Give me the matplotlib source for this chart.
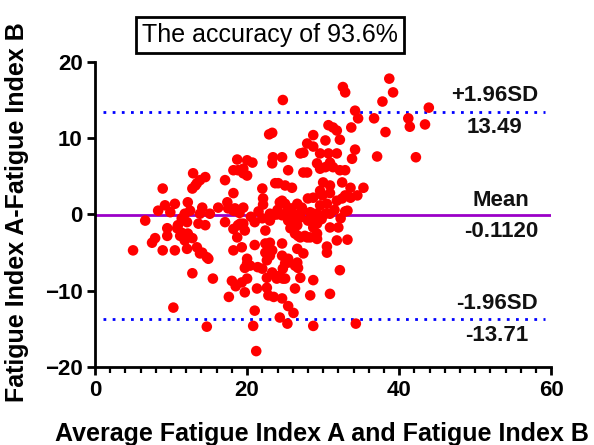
import matplotlib
matplotlib.use("Agg")
import matplotlib.pyplot as plt
from matplotlib.ticker import MultipleLocator

plt.rcParams['font.family'] = ['Liberation Sans', 'DejaVu Sans']

# Bland-Altman statistics
mean_diff = -0.1120
upper_loa = 13.49
lower_loa = -13.71

# Average of the two indices (x) and their difference (y)
avg_ab = [
    5.0, 6.6, 7.5, 7.9, 8.3, 8.9, 8.9, 9.2, 9.5, 9.5, 9.9,
    10.5, 10.5, 10.3, 10.8, 10.9, 11.2, 11.4, 11.4, 11.8, 11.8, 12.1, 12.1, 12.2, 12.2,
    12.5, 12.8, 12.8, 12.8, 12.9, 13.2, 13.4, 13.4, 13.6, 13.8, 13.8, 13.8, 14.1, 14.1,
    14.5, 14.5, 14.7, 14.7, 14.9, 15.1, 15.5, 16.2, 17.1, 17.1, 17.4, 17.5, 17.6,
    18.0, 18.2, 18.2, 18.2, 18.2, 18.4, 18.5, 18.7, 18.7, 18.2, 18.8, 18.8, 19.0, 19.1,
    19.3, 19.3, 19.5, 19.5, 19.5, 19.5, 19.7, 19.7, 19.7, 20.0, 20.0, 20.0, 20.0, 20.0,
    20.4, 20.5, 20.7, 20.8,
    21.0, 21.0, 21.0, 21.2, 21.4, 21.3, 21.5, 22.0, 22.0, 22.0, 22.1, 22.1, 22.4, 22.4,
    22.4, 23.0, 23.3, 22.6, 22.6, 22.6, 22.8, 23.5, 22.9, 23.3, 23.0, 23.0, 23.0, 23.3,
    23.4, 23.4, 23.3, 23.7, 23.9, 23.9, 24.0, 24.1, 24.3, 24.3, 24.3, 24.6, 24.6, 24.6,
    24.6, 24.6, 24.7, 24.6, 24.7, 24.7,
    25.0, 25.0, 25.0, 25.0, 25.3, 25.4, 25.4, 25.4, 25.4, 25.4, 25.3, 25.7, 25.8, 25.9,
    25.9, 25.9, 26.1, 26.3, 26.3, 26.3, 26.6, 26.6, 26.6, 26.6, 26.6, 26.7, 26.7, 27.0,
    27.0, 27.0, 27.0, 27.0, 27.2, 27.2, 27.4, 27.4, 27.4, 27.6, 27.9, 27.9, 27.9, 28.0,
    28.0, 28.3, 28.3, 28.3,
    28.7, 28.7, 28.7, 28.7, 28.7, 28.7, 28.7, 28.7, 29.2, 29.2, 29.2, 29.2, 29.2, 29.6,
    29.6, 29.6, 29.6, 29.8, 29.9, 30.0, 30.3, 30.3, 30.3, 30.5, 30.5, 30.5, 30.7, 30.7,
    30.9, 30.9, 30.9, 30.9, 30.9, 30.9, 31.3, 31.3, 31.5, 31.8, 31.8, 31.8, 31.8, 32.0,
    32.2, 32.2, 32.2, 32.3, 32.5, 32.5, 32.6, 32.9, 32.9, 32.9, 32.9, 33.2, 33.2, 33.6,
    33.6, 33.7, 33.8, 34.2, 34.2, 34.3, 34.5, 34.6, 35.3,
    36.7, 37.1, 37.8, 38.2, 38.7, 39.2, 41.2, 41.4, 42.2, 43.4, 43.9,
]
diff_ab = [
    -4.7, -0.8, -3.7, -3.1, 0.5, 3.4, -4.7, 1.2, -1.8, -2.8, 0.3,
    1.4, -4.7, -12.2, -1.8, -1.4, -2.8, -0.5, -2.4, 0.1, -3.4, -1.0, -4.5, 1.6, -2.5,
    0.5, -3.1, -7.7, 3.4, 5.4, 3.8, 4.1, -4.3, -1.2, 0.1, 4.5, -5.1, 0.9, -5.0,
    4.9, -1.4, -5.6, -14.7, -5.8, 0.1, -8.4, 0.9, -1.0, 4.5, 1.6, 0.8, -10.8,
    -8.7, 2.8, -1.9, 0.5, 5.8, 0.8, -9.4, 7.2, -3.0, -4.7, -1.4, 5.8, 0.2, -1.2,
    -4.3, -8.9, 0.9, -1.2, 6.0, 5.4, -2.1, -10.2, -7.0, 7.1, 5.1, -5.8, -8.4, -6.4,
    -6.7, -0.3, 6.8, -14.6,
    -1.0, -4.0, -12.6, -17.9, -6.9, -9.7, 0.4, 3.4, -7.1, -0.5, 1.3, 2.1, -2.1, -3.8,
    -5.0, -3.7, -4.7, -6.0, -8.3, -9.6, -10.6, -10.8, 10.5, 10.7, -0.8, 0.1, -5.4, 6.7,
    7.5, -0.1, -7.6, 4.1, 0.0, -8.4, 0.6, 4.1, 1.6, -8.0, -13.5, 7.5, 1.8, -0.1,
    -3.8, -5.4, -8.4, -11.0, -7.1, 15.0,
    3.8, 1.4, -6.4, -8.4, 0.5, 5.8, -0.8, -5.8, -6.3, -12.0, -14.3, -1.8, 0.8, 3.5,
    -1.4, -0.4, -12.9, -2.5, -6.7, -9.7, 1.4, -1.4, -4.5, -6.3, 0.0, -2.8, -7.0, 8.0,
    0.1, -0.4, -3.0, -8.3, 0.9, 0.5, 8.1, 5.5, -5.1, -2.8, 9.3, 5.5, -3.0, 2.1,
    -0.8, 0.3, -3.0, -10.6,
    10.4, 8.9, 2.2, 0.1, -0.5, -1.7, -8.6, -14.6, 6.7, 0.1, -1.2, -2.5, -3.2, 8.0,
    6.0, 3.1, 1.2, -0.6, 2.5, 4.2, 9.7, 6.2, 0.1, 1.4, -4.2, -5.0, 11.7, 8.0,
    3.8, 2.8, 6.8, 0.1, -1.7, -10.4, 11.4, 6.2, 0.6, 11.0, 8.0, 1.8, -3.4, -1.7,
    9.8, 5.8, -7.3, -0.5, 4.2, 2.1, 16.7, 16.0, 5.8, 2.5, 0.4, 0.5, -3.3, 3.5,
    2.2, 11.4, 7.3, 13.6, 8.5, -14.3, 2.5, 12.6, 3.5,
    12.6, 7.6, 14.8, 10.8, 17.8, 16.0, 12.6, 11.5, 7.5, 11.8, 14.0,
]

x_ticks = [0, 20, 40, 60]
y_ticks = [-20, -10, 0, 10, 20]

fig = plt.figure(figsize=(5.94, 4.45), dpi=100)
ax = fig.add_axes([0.16, 0.175, 0.768, 0.686])

ax.scatter(avg_ab, diff_ab, s=58, color='#ff0000', edgecolors='none', zorder=3)

ax.axhline(mean_diff, xmin=0, xmax=1, color='#9b00c8', lw=2.0, zorder=2)
for v in (upper_loa, lower_loa):
    ax.plot([1, 59.2], [v, v], color='#0000ff', lw=2.0,
            linestyle=(0, (1, 2.3)), zorder=2)

txt = dict(fontsize=16, fontweight='bold', ha='center', color='#111111')
ax.annotate('+1.96SD', (52.5, upper_loa), xytext=(0, 4), textcoords='offset points', va='bottom', **txt)
ax.annotate(f'{upper_loa:.2f}', (52.5, upper_loa), xytext=(0, -4), textcoords='offset points', va='top', **txt)
ax.annotate('Mean', (53.4, mean_diff), xytext=(0, 3), textcoords='offset points', va='bottom', **txt)
ax.annotate(f'{mean_diff:.4f}', (53.4, mean_diff), xytext=(0, -4), textcoords='offset points', va='top', **txt)
ax.annotate('-1.96SD', (52.9, lower_loa), xytext=(0, 4), textcoords='offset points', va='bottom', **txt)
ax.annotate(f'{lower_loa:.2f}', (52.9, lower_loa), xytext=(0, -4), textcoords='offset points', va='top', **txt)

ax.set_xlim(0, 60)
ax.set_ylim(-20, 20)
ax.set_xticks(x_ticks)
ax.set_yticks(y_ticks)
ax.xaxis.set_minor_locator(MultipleLocator(2))

for s in ('top', 'right'):
    ax.spines[s].set_visible(False)
for s in ('left', 'bottom'):
    ax.spines[s].set_linewidth(2.0)
ax.tick_params(axis='both', which='major', length=6, width=2.0, labelsize=16, pad=3)
ax.tick_params(axis='x', which='minor', length=4, width=1.6)
for lab in ax.get_xticklabels() + ax.get_yticklabels():
    lab.set_fontweight('bold')

ax.set_xlabel('Average Fatigue Index A and Fatigue Index B', fontsize=18, fontweight='bold')
ax.set_ylabel('Fatigue Index A-Fatigue Index B', fontsize=18, fontweight='bold')
ax.xaxis.set_label_coords(0.498, -0.18)
ax.yaxis.set_label_coords(-0.145, 0.508)

fig.text(0.4545, 0.921, 'The accuracy of 93.6%', fontsize=18, ha='center', va='center',
         bbox=dict(boxstyle='square,pad=0.25', facecolor='white', edgecolor='black', lw=2.0))

fig.savefig('out.png', dpi=100)
